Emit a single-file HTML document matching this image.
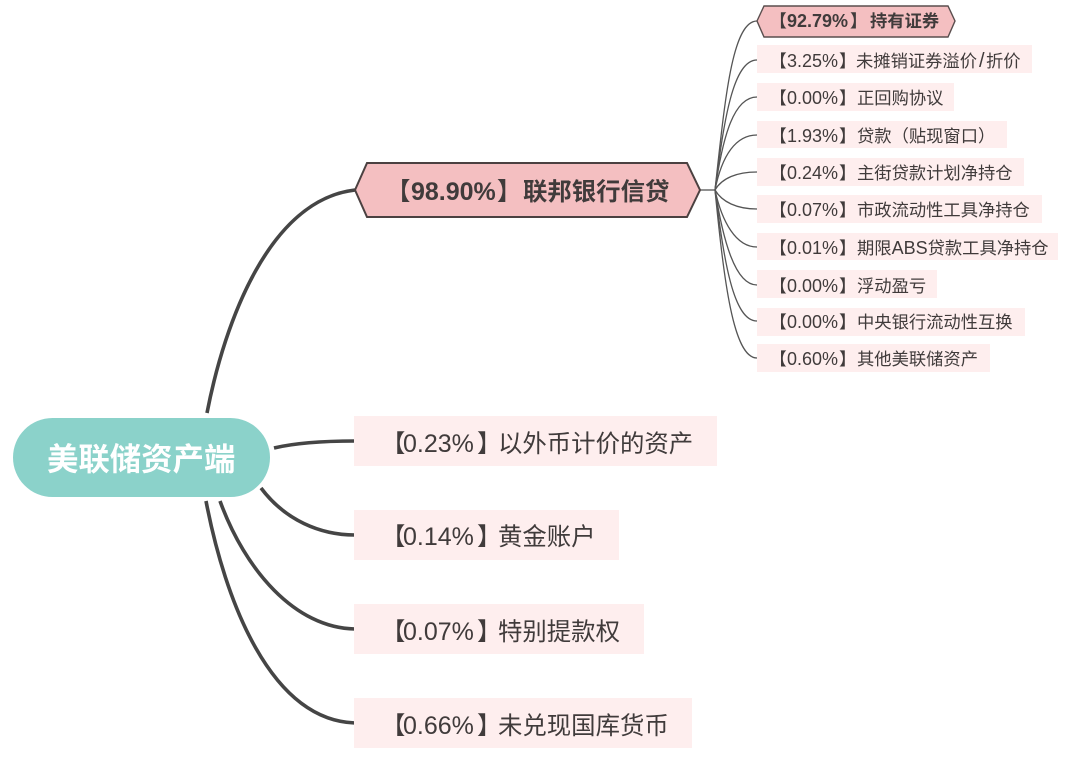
<!DOCTYPE html>
<html><head><meta charset="utf-8"><style>
html,body{margin:0;padding:0;background:#fff}
svg{display:block}
text{font-family:"Noto Sans CJK SC","Liberation Sans",sans-serif;fill:#403b3b}
.n{font-family:"Liberation Sans",sans-serif}
.l{font-size:24.4px}
.l .n{font-size:25px}
.s{font-size:17.3px}
.s .n{font-size:18px}
.b{font-weight:700}
</style></head><body>
<svg width="1080" height="764" viewBox="0 0 1080 764" xmlns="http://www.w3.org/2000/svg">
<g fill="none" stroke="#454545" stroke-width="3.6">
<path d="M207,413C225,320 270,200 355,190"/>
<path d="M274,448C295,443 320,441 355,441"/>
<path d="M261,488C285,520 320,535 355,535"/>
<path d="M220,501C245,570 295,628 355,629"/>
<path d="M206,501C225,600 270,720 355,723"/>
</g>
<g fill="none" stroke="#555" stroke-width="1.3">
<path d="M700,190H715"/>
<path d="M715,190C725,100 732,21 757,21"/>
<path d="M715,190C724,120 733,60 757,60"/>
<path d="M715,190C723,135 734,97 757,97"/>
<path d="M715,190C722,155 736,135 757,135"/>
<path d="M715,190C722,178 737,172 757,172"/>
<path d="M715,190C722,202 737,209 757,209"/>
<path d="M715,190C722,222 736,247 757,247"/>
<path d="M715,190C723,240 735,285 757,285"/>
<path d="M715,190C724,260 733,321 757,321"/>
<path d="M715,190C724,280 733,358 757,358"/>
</g>
<rect x="13" y="418" width="257" height="79" rx="39.5" fill="#8bd2ca"/>
<text x="47" y="470" font-size="31.4" font-weight="700" style="fill:#fff">美联储资产端</text>
<polygon points="355,190 367,163 687,163 700,190 687,217 367,217" fill="#f4bfc1" stroke="#4b4141" stroke-width="2"/>
<text class="l b" y="200"><tspan x="386">【</tspan><tspan class="n" x="411">98.90%</tspan><tspan x="497">】</tspan><tspan x="523">联邦银行信贷</tspan></text>
<g fill="#feeeee">
<rect x="354" y="416" width="363" height="50"/>
<rect x="354" y="510" width="265" height="50"/>
<rect x="354" y="604" width="290" height="50"/>
<rect x="354" y="698" width="338" height="50"/>
<rect x="757" y="45" width="275" height="28"/>
<rect x="757" y="83" width="197" height="28"/>
<rect x="757" y="121" width="250" height="27"/>
<rect x="757" y="158" width="267" height="28"/>
<rect x="757" y="195" width="285" height="28"/>
<rect x="757" y="233" width="301" height="27"/>
<rect x="757" y="270" width="180" height="28"/>
<rect x="757" y="308" width="268" height="28"/>
<rect x="757" y="344" width="233" height="28"/>
</g>
<text class="l" y="452"><tspan x="381">【</tspan><tspan class="n" x="403">0.23%</tspan><tspan x="477">】</tspan><tspan x="498">以外币计价的资产</tspan></text>
<text class="l" y="545"><tspan x="381">【</tspan><tspan class="n" x="403">0.14%</tspan><tspan x="477">】</tspan><tspan x="498">黄金账户</tspan></text>
<text class="l" y="640"><tspan x="381">【</tspan><tspan class="n" x="403">0.07%</tspan><tspan x="477">】</tspan><tspan x="498">特别提款权</tspan></text>
<text class="l" y="734"><tspan x="381">【</tspan><tspan class="n" x="403">0.66%</tspan><tspan x="477">】</tspan><tspan x="498">未兑现国库货币</tspan></text>
<polygon points="757,21 764,6 948,6 955,21 948,37 764,37" fill="#f4bfc1" stroke="#5a4e4e" stroke-width="1.4"/>
<text class="s b" y="27"><tspan x="769.5">【</tspan><tspan class="n" x="787">92.79%</tspan><tspan x="850">】</tspan><tspan x="870">持有证券</tspan></text>
<text class="s" y="67"><tspan x="769.5">【</tspan><tspan class="n" x="787">3.25%</tspan><tspan x="839">】</tspan><tspan x="856">未摊销证券溢价</tspan><tspan class="n" x="979" style="font-size:20px">/</tspan><tspan x="986">折价</tspan></text>
<text class="s" y="104"><tspan x="769.5">【</tspan><tspan class="n" x="787">0.00%</tspan><tspan x="839">】</tspan><tspan x="857">正回购协议</tspan></text>
<text class="s" y="142"><tspan x="769.5">【</tspan><tspan class="n" x="787">1.93%</tspan><tspan x="839">】</tspan><tspan x="857">贷款（贴现窗口）</tspan></text>
<text class="s" y="179"><tspan x="769.5">【</tspan><tspan class="n" x="787">0.24%</tspan><tspan x="839">】</tspan><tspan x="857">主街贷款计划净持仓</tspan></text>
<text class="s" y="216"><tspan x="769.5">【</tspan><tspan class="n" x="787">0.07%</tspan><tspan x="839">】</tspan><tspan x="857">市政流动性工具净持仓</tspan></text>
<text class="s" y="254"><tspan x="769.5">【</tspan><tspan class="n" x="787">0.01%</tspan><tspan x="839">】</tspan><tspan x="857">期限</tspan><tspan class="n">ABS</tspan><tspan>贷款工具净持仓</tspan></text>
<text class="s" y="292"><tspan x="769.5">【</tspan><tspan class="n" x="787">0.00%</tspan><tspan x="839">】</tspan><tspan x="857">浮动盈亏</tspan></text>
<text class="s" y="328"><tspan x="769.5">【</tspan><tspan class="n" x="787">0.00%</tspan><tspan x="839">】</tspan><tspan x="857">中央银行流动性互换</tspan></text>
<text class="s" y="365"><tspan x="769.5">【</tspan><tspan class="n" x="787">0.60%</tspan><tspan x="839">】</tspan><tspan x="857">其他美联储资产</tspan></text>
</svg>
</body></html>
